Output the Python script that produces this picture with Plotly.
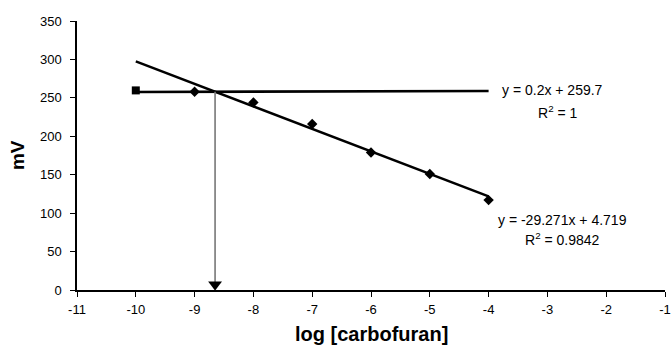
import plotly.graph_objects as go

# Data
log_conc = [-9, -8, -7, -6, -5, -4]
mv_values = [258, 244, 216, 179, 151, 117]
baseline_x = [-10]
baseline_y = [259.7]

# Trendline coefficients (slope, intercept)
fit_dec = (-29.271, 4.719)
fit_flat = (0.2, 259.7)
trend_x = [-10, -4]

x_ticks = [-11, -10, -9, -8, -7, -6, -5, -4, -3, -2, -1]
x_labels = ["-11", "-10", "-9", "-8", "-7", "-6", "-5", "-4", "-3", "-2", "-1"]
y_ticks = [0, 50, 100, 150, 200, 250, 300, 350]

x_cross = (fit_flat[1] - fit_dec[1]) / (fit_dec[0] - fit_flat[0])
y_cross = fit_flat[0] * x_cross + fit_flat[1]

font = "Liberation Sans, Arial, sans-serif"
fig = go.Figure()

# Decreasing trend line
fig.add_trace(go.Scatter(
    x=trend_x, y=[fit_dec[0] * v + fit_dec[1] for v in trend_x],
    mode="lines", line=dict(color="black", width=2.5), showlegend=False))
# Flat trend line
fig.add_trace(go.Scatter(
    x=trend_x, y=[fit_flat[0] * v + fit_flat[1] for v in trend_x],
    mode="lines", line=dict(color="black", width=2.6), showlegend=False))
# Data points
fig.add_trace(go.Scatter(
    x=log_conc, y=mv_values, mode="markers",
    marker=dict(symbol="diamond", size=8, color="black"), showlegend=False))
fig.add_trace(go.Scatter(
    x=baseline_x, y=baseline_y, mode="markers",
    marker=dict(symbol="square", size=8, color="black"), showlegend=False))
# Arrow from intersection down to x-axis
fig.add_trace(go.Scatter(
    x=[x_cross, x_cross], y=[y_cross, 6], mode="lines",
    line=dict(color="#777777", width=1.6), showlegend=False))
fig.add_trace(go.Scatter(
    x=[x_cross], y=[7], mode="markers",
    marker=dict(symbol="triangle-down", size=12, color="black"), showlegend=False))

ann_font = dict(family=font, size=14, color="black")
fig.add_annotation(x=-3.8, y=259.7, xref="x", yref="y", text="y = 0.2x + 259.7",
                   showarrow=False, xanchor="left", yanchor="middle", font=ann_font)
fig.add_annotation(x=-2.82, y=231, xref="x", yref="y", text="R<sup>2</sup> = 1",
                   showarrow=False, xanchor="center", yanchor="middle", font=ann_font)
fig.add_annotation(x=-2.74, y=91, xref="x", yref="y", text="y = -29.271x + 4.719",
                   showarrow=False, xanchor="center", yanchor="middle", font=ann_font)
fig.add_annotation(x=-2.74, y=66, xref="x", yref="y", text="R<sup>2</sup> = 0.9842",
                   showarrow=False, xanchor="center", yanchor="middle", font=ann_font)

# Axis titles
fig.add_annotation(x=0.5, y=-0.165, xref="paper", yref="paper",
                   text="<b>log [carbofuran]</b>", showarrow=False,
                   xanchor="center", yanchor="middle",
                   font=dict(family=font, size=20, color="black"))
fig.add_annotation(x=-0.101, y=0.5, xref="paper", yref="paper",
                   text="<b>mV</b>", showarrow=False, textangle=-90,
                   xanchor="center", yanchor="middle",
                   font=dict(family=font, size=19, color="black"))

fig.update_layout(
    width=671, height=347,
    margin=dict(l=77, r=6, t=21, b=57),
    paper_bgcolor="white", plot_bgcolor="white",
    font=dict(family=font, size=13, color="black"),
    xaxis=dict(range=[-11, -1], tickvals=x_ticks, ticktext=x_labels,
               ticklabeloverflow="allow", automargin=False,
               showgrid=False, zeroline=False,
               showline=True, linecolor="black", linewidth=1.5,
               ticks="outside", ticklen=5, tickcolor="black",
               ticklabelstandoff=2, tickfont=dict(size=13)),
    yaxis=dict(range=[0, 350], tickvals=y_ticks, automargin=False,
               showgrid=False, zeroline=False,
               showline=True, linecolor="black", linewidth=1.5,
               ticks="outside", ticklen=5, tickcolor="black",
               ticklabelstandoff=6, tickfont=dict(size=13)),
)

fig.write_html("out.html")
